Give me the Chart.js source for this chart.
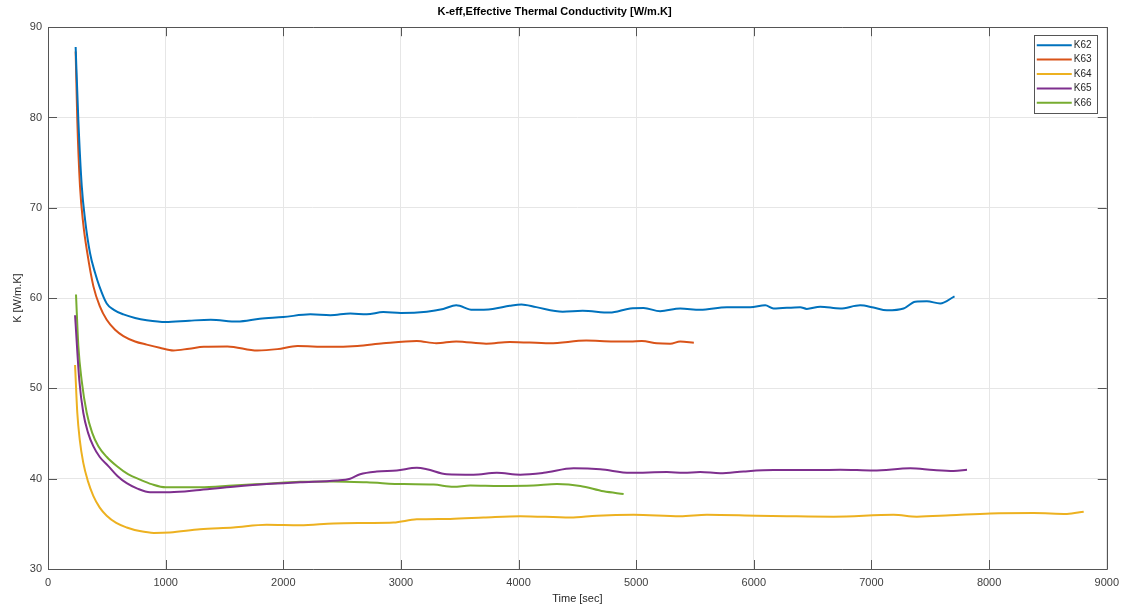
<!DOCTYPE html>
<html>
<head>
<meta charset="utf-8">
<title>K-eff, Effective Thermal Conductivity</title>
<script src="https://cdn.jsdelivr.net/npm/chart.js@4"></script>
<style>
  html, body { margin: 0; padding: 0; background: #ffffff; }
  #wrap { width: 1126px; height: 608px; }
</style>
</head>
<body>
<div id="wrap"><canvas id="c" width="1126" height="608"></canvas></div>
<script>
// Measured conductivity traces: time [sec] and K [W/m.K] for each probe
const seriesNames = ['K62', 'K63', 'K64', 'K65', 'K66'];

const timeK62 = [235, 258, 287, 315, 357, 400, 437, 499, 560, 641, 740, 839, 1000, 1200, 1383, 1610, 1800, 2000, 2230, 2400, 2570, 2710, 2850, 3000, 3220, 3360, 3470, 3610, 3780, 3925, 4025, 4150, 4375, 4545, 4775, 4949, 5063, 5204, 5374, 5544, 5771, 5969, 6097, 6167, 6394, 6450, 6564, 6734, 6904, 7017, 7131, 7273, 7372, 7471, 7584, 7706];
const valK62  = [87.8, 79.7, 72.4, 68.7, 65.0, 62.8, 61.3, 59.4, 58.7, 58.2, 57.8, 57.55, 57.35, 57.5, 57.6, 57.4, 57.7, 57.9, 58.2, 58.1, 58.3, 58.2, 58.45, 58.35, 58.5, 58.8, 59.2, 58.7, 58.8, 59.15, 59.3, 59.0, 58.5, 58.6, 58.4, 58.85, 58.9, 58.55, 58.85, 58.7, 59.0, 59.0, 59.2, 58.85, 59.0, 58.8, 59.05, 58.85, 59.2, 58.95, 58.65, 58.85, 59.6, 59.65, 59.4, 60.2];

const timeK63 = [235, 249, 272, 300, 334, 386, 440, 499, 570, 641, 740, 839, 950, 1066, 1200, 1325, 1525, 1780, 1950, 2120, 2375, 2630, 2850, 3135, 3300, 3470, 3725, 3925, 4265, 4575, 4807, 4949, 5048, 5176, 5289, 5374, 5490];
const valK63  = [87.3, 79.7, 72.4, 68.2, 65.0, 61.3, 59.1, 57.6, 56.5, 55.8, 55.2, 54.85, 54.5, 54.2, 54.4, 54.6, 54.65, 54.2, 54.35, 54.7, 54.6, 54.7, 55.0, 55.25, 55.0, 55.2, 54.95, 55.15, 55.0, 55.3, 55.2, 55.2, 55.25, 55.0, 54.95, 55.2, 55.05];

const timeK64 = [230, 249, 270, 300, 340, 385, 440, 499, 580, 669, 780, 900, 1037, 1292, 1575, 1859, 2143, 2427, 2710, 2937, 3135, 3418, 3702, 4014, 4440, 4666, 4977, 5374, 5601, 6026, 6281, 6678, 7188, 7386, 7670, 8010, 8379, 8662, 8804];
const valK64  = [52.6, 47.3, 44.3, 41.75, 39.7, 38.1, 36.8, 35.9, 35.1, 34.6, 34.2, 34.0, 34.05, 34.4, 34.6, 34.9, 34.85, 35.05, 35.1, 35.15, 35.5, 35.55, 35.7, 35.85, 35.7, 35.9, 36.0, 35.85, 36.0, 35.9, 35.85, 35.8, 36.0, 35.8, 35.95, 36.15, 36.2, 36.1, 36.35];

const timeK65 = [230, 266, 300, 340, 385, 440, 513, 590, 669, 760, 867, 1037, 1292, 1575, 1859, 2143, 2455, 2568, 2653, 2795, 2965, 3135, 3220, 3390, 3617, 3815, 4014, 4213, 4468, 4694, 4949, 5261, 5403, 5544, 5714, 5913, 6168, 6451, 6734, 7017, 7330, 7528, 7698, 7812];
const valK65  = [58.1, 50.9, 47.3, 45.1, 43.6, 42.4, 41.4, 40.3, 39.5, 38.9, 38.5, 38.5, 38.75, 39.1, 39.4, 39.6, 39.8, 40.0, 40.5, 40.8, 40.9, 41.2, 41.05, 40.5, 40.45, 40.65, 40.45, 40.65, 41.15, 41.05, 40.65, 40.75, 40.65, 40.75, 40.6, 40.8, 40.95, 40.95, 41.0, 40.9, 41.15, 40.95, 40.85, 41.0];

const timeK66 = [238, 258, 286, 329, 375, 428, 500, 584, 680, 782, 880, 1000, 1292, 1575, 1859, 2143, 2427, 2710, 3022, 3277, 3447, 3589, 3844, 4128, 4326, 4525, 4723, 4893];
const valK66  = [60.4, 54.7, 50.9, 47.3, 45.1, 43.6, 42.4, 41.4, 40.5, 39.9, 39.4, 39.05, 39.05, 39.25, 39.45, 39.65, 39.7, 39.6, 39.4, 39.35, 39.1, 39.25, 39.2, 39.25, 39.4, 39.2, 38.6, 38.3];

// Axis tick values
const xTicks = [0, 1000, 2000, 3000, 4000, 5000, 6000, 7000, 8000, 9000];
const yTicks = [30, 40, 50, 60, 70, 80, 90];

const seriesColors = ['#0072BD', '#D95319', '#EDB120', '#7E2F8E', '#77AC30'];

const allTimes = [timeK62, timeK63, timeK64, timeK65, timeK66];
const allVals  = [valK62, valK63, valK64, valK65, valK66];

const FONT = '"Liberation Sans", Arial, Helvetica, sans-serif';
const AXIS_COLOR = '#555555';

const datasets = seriesNames.map((name, i) => ({
  label: name,
  data: allTimes[i].map((t, j) => ({ x: t, y: allVals[i][j] })),
  borderColor: seriesColors[i],
  backgroundColor: seriesColors[i],
  borderWidth: 2,
  pointRadius: 0,
  fill: false,
  cubicInterpolationMode: 'monotone'
}));

// Closed axes box with inward tick marks on all four sides
const boxPlugin = {
  id: 'axesBox',
  afterDatasetsDraw(chart) {
    const { ctx, chartArea: a, scales: { x, y } } = chart;
    const tl = 9;
    ctx.save();
    ctx.strokeStyle = AXIS_COLOR;
    ctx.lineWidth = 1;
    ctx.beginPath();
    ctx.rect(Math.round(a.left) + 0.5, Math.round(a.top) + 0.5,
             Math.round(a.right - a.left), Math.round(a.bottom - a.top));
    ctx.stroke();
    ctx.beginPath();
    xTicks.forEach(v => {
      const px = Math.round(x.getPixelForValue(v)) + 0.5;
      ctx.moveTo(px, a.bottom); ctx.lineTo(px, a.bottom - tl);
      ctx.moveTo(px, a.top); ctx.lineTo(px, a.top + tl);
    });
    yTicks.forEach(v => {
      const py = Math.round(y.getPixelForValue(v)) + 0.5;
      ctx.moveTo(a.left, py); ctx.lineTo(a.left + tl, py);
      ctx.moveTo(a.right, py); ctx.lineTo(a.right - tl, py);
    });
    ctx.stroke();
    ctx.restore();
  }
};

// Boxed legend in the upper right corner of the plot
const legendPlugin = {
  id: 'boxLegend',
  afterDraw(chart) {
    const { ctx, chartArea: a } = chart;
    const w = 63, h = 78;
    const bx = a.right - 10 - w, by = a.top + 8;
    ctx.save();
    ctx.fillStyle = '#ffffff';
    ctx.fillRect(bx, by, w, h);
    ctx.strokeStyle = AXIS_COLOR;
    ctx.lineWidth = 1;
    ctx.strokeRect(Math.round(bx) + 0.5, Math.round(by) + 0.5, w, h);
    ctx.font = '10px ' + FONT;
    ctx.textBaseline = 'middle';
    ctx.textAlign = 'left';
    chart.data.datasets.forEach((ds, i) => {
      const ly = by + 10 + i * 14.4;
      ctx.strokeStyle = ds.borderColor;
      ctx.lineWidth = 2;
      ctx.beginPath();
      ctx.moveTo(bx + 3, ly);
      ctx.lineTo(bx + 38, ly);
      ctx.stroke();
      ctx.fillStyle = '#262626';
      ctx.fillText(ds.label, bx + 40, ly);
    });
    ctx.restore();
  }
};

new Chart(document.getElementById('c'), {
  type: 'line',
  data: { datasets },
  options: {
    responsive: false,
    animation: false,
    devicePixelRatio: 1,
    layout: { padding: { top: 0, right: 17, bottom: 0, left: 0 } },
    plugins: {
      legend: { display: false },
      tooltip: { enabled: false },
      title: {
        display: true,
        text: 'K-eff,Effective Thermal Conductivity [W/m.K]',
        color: '#000000',
        font: { family: FONT, size: 11, weight: 'bold' },
        padding: { top: 5, bottom: 9 }
      }
    },
    scales: {
      x: {
        type: 'linear',
        min: 0,
        max: 9000,
        afterBuildTicks(scale) { scale.ticks = xTicks.map(v => ({ value: v })); },
        afterFit(scale) { scale.height = 39; },
        ticks: {
          color: '#404040',
          font: { family: FONT, size: 11 },
          padding: 7,
          maxRotation: 0,
          autoSkip: false,
          callback: v => String(v)
        },
        grid: { color: '#e6e6e6', lineWidth: 1, drawTicks: false },
        border: { display: false },
        title: {
          display: true,
          text: 'Time [sec]',
          color: '#262626',
          font: { family: FONT, size: 11 },
          padding: { top: 0, bottom: 2 }
        }
      },
      y: {
        type: 'linear',
        min: 30,
        max: 90,
        afterBuildTicks(scale) { scale.ticks = yTicks.map(v => ({ value: v })); },
        afterFit(scale) { scale.width = 48; },
        ticks: {
          color: '#404040',
          font: { family: FONT, size: 11 },
          padding: 6,
          autoSkip: false,
          callback: v => String(v)
        },
        grid: { color: '#e6e6e6', lineWidth: 1, drawTicks: false },
        border: { display: false },
        title: {
          display: true,
          text: 'K [W/m.K]',
          color: '#262626',
          font: { family: FONT, size: 11 },
          padding: { top: 11, bottom: 0 }
        }
      }
    }
  },
  plugins: [boxPlugin, legendPlugin]
});
</script>
</body>
</html>
